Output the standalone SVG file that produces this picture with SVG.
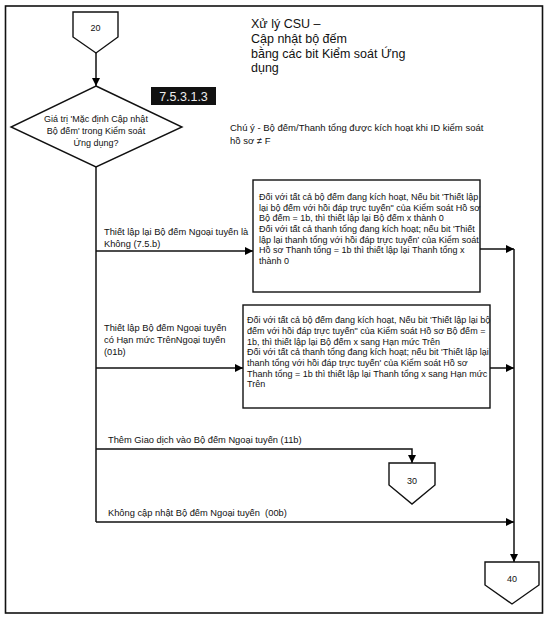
<svg xmlns="http://www.w3.org/2000/svg" width="546" height="618" viewBox="0 0 546 618">
<defs>
<marker id="ah" viewBox="0 0 10 10" refX="10" refY="5" markerWidth="8" markerHeight="8" markerUnits="userSpaceOnUse" orient="auto">
<path d="M0,0 L10,5 L0,10 z" fill="#000"/>
</marker>
<style>
.ln{fill:none;stroke:#111;stroke-width:1.5}
.sh{fill:#fff;stroke:#111;stroke-width:1.4}
text{font-family:"Liberation Sans",Arial,sans-serif;fill:#111}
.t9{font-size:9px}
.tl{font-size:9.3px}
.tt{font-size:12.5px}
.tn{font-size:9.5px}
</style>
</defs>
<rect x="0" y="0" width="546" height="618" fill="#fff"/>
<rect x="5.5" y="6" width="537" height="607" fill="none" stroke="#111" stroke-width="1.6"/>

<g id="title">
<text class="tt" x="251" y="28">Xử lý CSU –</text>
<text class="tt" x="251" y="43">Cập nhật bộ đếm</text>
<text class="tt" x="251" y="58">bằng các bit Kiểm soát Ứng</text>
<text class="tt" x="251" y="72">dụng</text>
</g>

<g id="ref-label">
<rect x="151" y="87" width="65" height="18" fill="#111"/>
<text x="183.5" y="101" text-anchor="middle" style="font-size:12.5px;fill:#eee">7.5.3.1.3</text>
</g>

<g id="note">
<text class="tn" x="230" y="131">Chú ý - Bộ đếm/Thanh tổng được kích hoạt khi ID kiểm soát</text>
<text class="tn" x="230" y="144">hồ sơ ≠ F</text>
</g>

<g id="connectors">
<path class="ln" d="M96,53 V86" marker-end="url(#ah)"/>
<path class="ln" d="M96,167 V522"/>
<path class="ln" d="M96,251 H253" marker-end="url(#ah)"/>
<path class="ln" d="M96,368 H243" marker-end="url(#ah)"/>
<path class="ln" d="M96,449 H412 V463" marker-end="url(#ah)"/>
<path class="ln" d="M96,522 H514" marker-end="url(#ah)"/>
<path class="ln" d="M480,249 H514" marker-end="url(#ah)"/>
<path class="ln" d="M490,368 H514" marker-end="url(#ah)"/>
<path class="ln" d="M514,249 V562" marker-end="url(#ah)"/>
</g>

<g id="n20">
<path class="sh" d="M73,12 H118 V37 L96,53 L73,37 Z"/>
<text class="t9" x="95.5" y="31" text-anchor="middle">20</text>
</g>

<g id="decision">
<path class="sh" d="M96,86 L182,127 L96,167 L11,127 Z"/>
<text class="t9" x="96" y="122" text-anchor="middle">Giá trị 'Mặc định Cập nhật</text>
<text class="t9" x="96" y="134" text-anchor="middle">Bộ đếm' trong Kiểm soát</text>
<text class="t9" x="96" y="146" text-anchor="middle">Ứng dụng?</text>
</g>

<g id="label1">
<text class="tl" x="104" y="235">Thiết lập lại Bộ đếm Ngoại tuyến là</text>
<text class="tl" x="104" y="247">Không (7.5.b)</text>
</g>

<g id="box1">
<rect class="sh" x="253" y="180" width="227" height="112"/>
<text class="t9" x="259" y="200">Đối với tất cả bộ đếm đang kích hoạt, Nếu bit 'Thiết lập</text>
<text class="t9" x="259" y="211">lại bộ đếm với hồi đáp trực tuyến" của Kiểm soát Hồ sơ</text>
<text class="t9" x="259" y="221">Bộ đếm = 1b, thì thiết lập lại Bộ đếm x thành 0</text>
<text class="t9" x="259" y="232">Đối với tất cả thanh tổng đang kích hoạt; nếu bit 'Thiết</text>
<text class="t9" x="259" y="243">lập lại thanh tổng với hồi đáp trực tuyến' của Kiểm soát</text>
<text class="t9" x="259" y="253">Hồ sơ Thanh tổng = 1b thì thiết lập lại Thanh tổng x</text>
<text class="t9" x="259" y="264">thành 0</text>
</g>

<g id="label2">
<text class="tl" x="104" y="331">Thiết lập Bộ đếm Ngoại tuyến</text>
<text class="tl" x="104" y="343">có Hạn mức TrênNgoại tuyến</text>
<text class="tl" x="104" y="355">(01b)</text>
</g>

<g id="box2">
<rect class="sh" x="243" y="305" width="247" height="103"/>
<text class="t9" x="247" y="323">Đối với tất cả bộ đếm đang kích hoạt, Nếu bit 'Thiết lập lại bộ</text>
<text class="t9" x="247" y="334">đếm với hồi đáp trực tuyến" của Kiểm soát Hồ sơ Bộ đếm =</text>
<text class="t9" x="247" y="344.5">1b, thì thiết lập lại Bộ đếm x sang Hạn mức Trên</text>
<text class="t9" x="247" y="355">Đối với tất cả thanh tổng đang kích hoạt; nếu bit 'Thiết lập lại</text>
<text class="t9" x="247" y="366">thanh tổng với hồi đáp trực tuyến' của Kiểm soát Hồ sơ</text>
<text class="t9" x="247" y="376.5">Thanh tổng = 1b thì thiết lập lại Thanh tổng x sang Hạn mức</text>
<text class="t9" x="247" y="387">Trên</text>
</g>

<g id="label3">
<text class="tl" x="108" y="443">Thêm Giao dịch vào Bộ đếm Ngoại tuyến (11b)</text>
</g>

<g id="n30">
<path class="sh" d="M389,463 H435 V485 L412,504 L389,485 Z"/>
<text class="t9" x="412" y="484" text-anchor="middle">30</text>
</g>

<g id="label4">
<text class="tl" x="108" y="516" xml:space="preserve">Không cập nhật Bộ đếm Ngoại tuyến  (00b)</text>
</g>

<g id="n40">
<path class="sh" d="M485,562 H539 V585 L512,604 L485,585 Z"/>
<text class="t9" x="512" y="582" text-anchor="middle">40</text>
</g>
</svg>
